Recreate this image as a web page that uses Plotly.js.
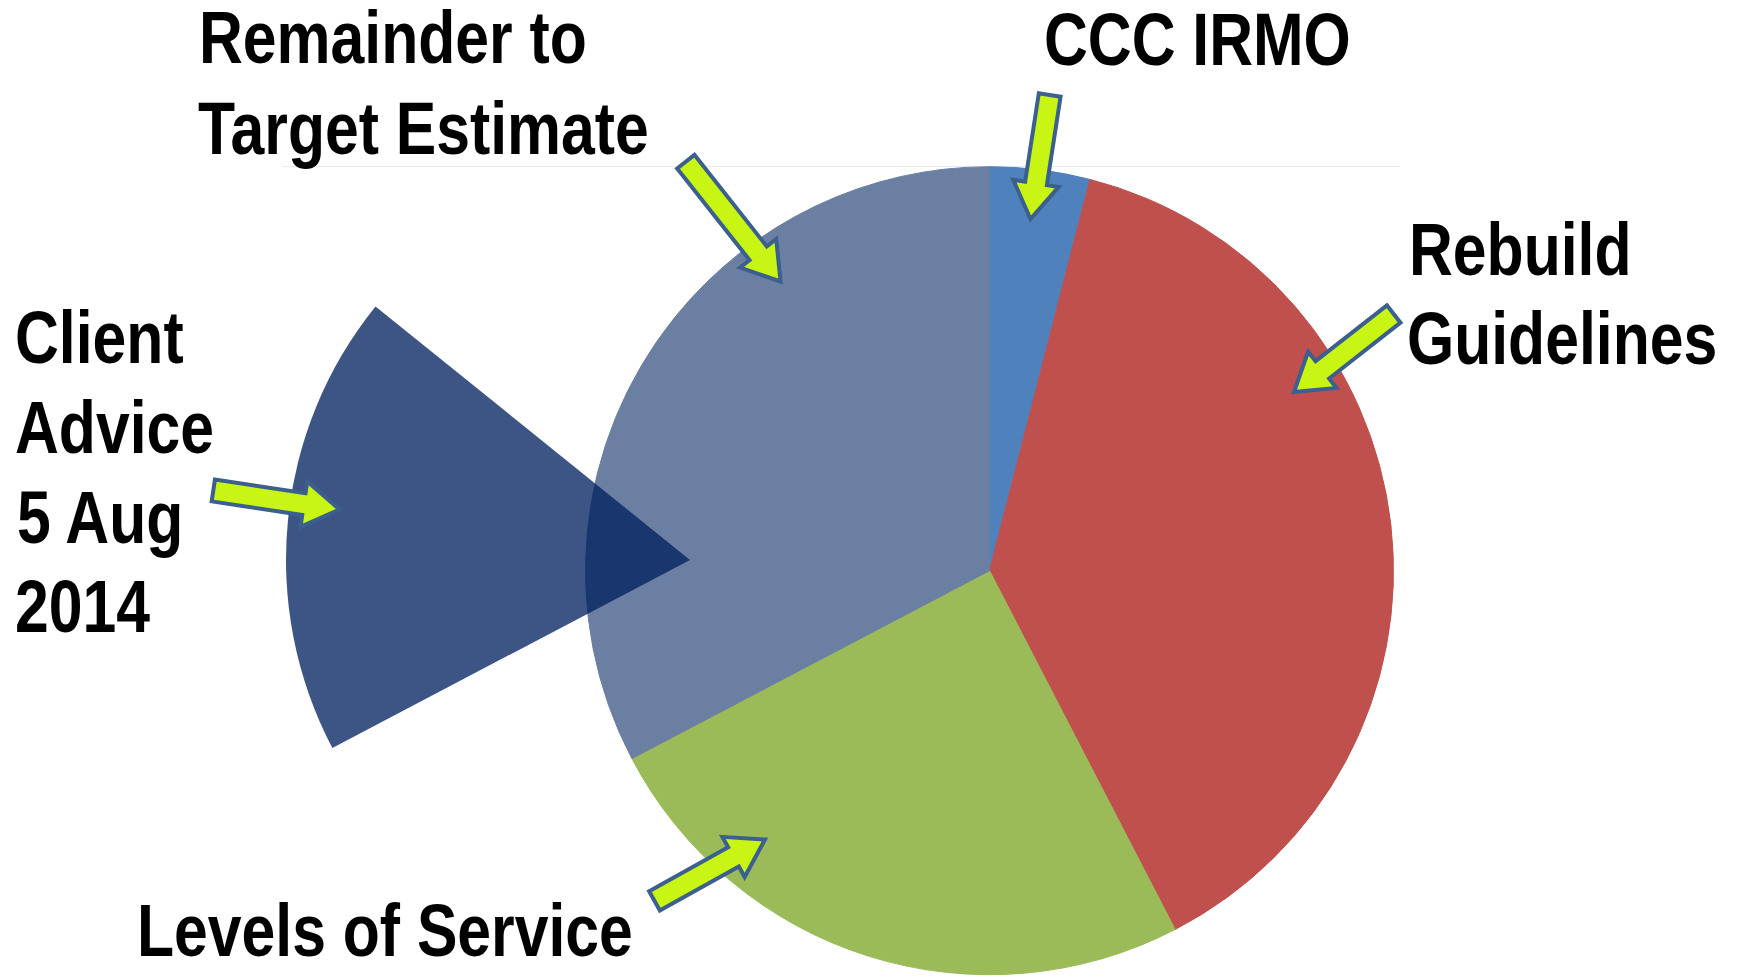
<!DOCTYPE html>
<html><head><meta charset="utf-8">
<script src="https://cdn.plot.ly/plotly-3.0.1.min.js"></script>
<style>html,body{margin:0;padding:0;background:#fff;overflow:hidden}#chart{width:1738px;height:976px;}</style>
</head><body><div id="chart"></div>
<script>
// ---------- data ----------
const categories = ["CCC IRMO", "Rebuild Guidelines", "Levels of Service", "Client Advice 5 Aug 2014", "Remainder to Target Estimate"];
const shares = [4.0, 38.4, 24.9, 18.5, 14.2];
const labelLines = [["CCC IRMO"], ["Rebuild", "Guidelines"], ["Levels of Service"], ["Client", "Advice", "5 Aug", "2014"], ["Remainder to", "Target Estimate"]];
const highlightCategory = "Client Advice 5 Aug 2014";

// ---------- styling / layout ----------
const W = 1738, H = 976;
const sliceColors = ['#4f81bd', '#c0504d', '#9bbb59', '#6b7fa3', '#6b7fa3'];
const highlightColor = 'rgba(0,32,95,0.76)';
const mainPie = {cx: 989.5, cy: 570.7, r: 404};
const pulledPie = {cx: 690, cy: 560, r: 404};
const narrow = 0.82; // horizontal condensing of the label font
// label line positions (left x, baseline y) in pixels, matching labelLines
const labelPos = [
  [[1045, 65]],
  [[1410, 275], [1408, 364]],
  [[138, 956]],
  [[16, 363], [16, 453], [18, 543], [16, 632]],
  [[200, 64], [199, 154]]
];
// arrows: [tail, tip] in pixels, one per category
const arrowPos = [
  [[1049.7, 95], [1030.5, 219]],
  [[1393.7, 314], [1294, 392]],
  [[654.5, 900.8], [765, 839.5]],
  [[213.3, 490.5], [339.5, 509.5]],
  [[685.8, 161.7], [780.5, 281.5]]
];

function domainFor(p) {
  return {x: [(p.cx - p.r) / W, (p.cx + p.r) / W], y: [1 - (p.cy + p.r) / H, 1 - (p.cy - p.r) / H]};
}
const px = x => x / W, py = y => 1 - y / H;

function arrowPath(t, h) {
  const sw = 11, hw = 23, hl = 36;
  const dx = h[0] - t[0], dy = h[1] - t[1], L = Math.hypot(dx, dy);
  const ux = dx / L, uy = dy / L, nx = -uy, ny = ux;
  const bx = h[0] - ux * hl, by = h[1] - uy * hl;
  const pts = [
    [t[0] + nx * sw, t[1] + ny * sw], [bx + nx * sw, by + ny * sw], [bx + nx * hw, by + ny * hw],
    [h[0], h[1]],
    [bx - nx * hw, by - ny * hw], [bx - nx * sw, by - ny * sw], [t[0] - nx * sw, t[1] - ny * sw]
  ];
  return 'M' + pts.map(p => px(p[0]).toFixed(5) + ',' + py(p[1]).toFixed(5)).join(' L') + ' Z';
}

const mainTrace = {
  type: 'pie', labels: categories, values: shares, sort: false, direction: 'clockwise', rotation: 0,
  marker: {colors: sliceColors, line: {width: 1, color: sliceColors}}, textinfo: 'none', hoverinfo: 'label+percent',
  showlegend: false, domain: domainFor(mainPie)
};
const pulledTrace = {
  type: 'pie', labels: categories, values: shares, sort: false, direction: 'clockwise', rotation: 0,
  marker: {colors: categories.map(c => c === highlightCategory ? highlightColor : 'rgba(0,0,0,0)'), line: {width: 0}},
  textinfo: 'none', hoverinfo: 'skip', showlegend: false, domain: domainFor(pulledPie)
};

const fontFam = '"Liberation Sans Narrow", "Arial Narrow", "Liberation Sans", Arial, sans-serif';
const annotations = [];
labelLines.forEach((lines, i) => {
  lines.forEach((txt, j) => {
    const [lx, base] = labelPos[i][j];
    annotations.push({
      x: px(lx - 2), y: py(base - 26), xref: 'paper', yref: 'paper', xanchor: 'left', yanchor: 'middle',
      align: 'left', text: txt, showarrow: false, borderpad: 0,
      font: {family: fontFam, size: 74, color: '#000000', weight: 'bold'}
    });
  });
});

const shapes = [
  {type: 'line', xref: 'paper', yref: 'paper', x0: px(282), x1: px(1400), y0: py(166.5), y1: py(166.5),
   line: {color: '#e6ecf4', width: 1}, layer: 'below'}
];
arrowPos.forEach(a => {
  shapes.push({type: 'path', xref: 'paper', yref: 'paper', path: arrowPath(a[0], a[1]),
    fillcolor: '#c8f514', line: {color: '#3b5f8e', width: 4}, layer: 'above'});
});

const layout = {
  width: W, height: H, margin: {l: 0, r: 0, t: 0, b: 0},
  paper_bgcolor: '#ffffff', plot_bgcolor: '#ffffff', showlegend: false,
  annotations: annotations, shapes: shapes
};
Plotly.newPlot('chart', [mainTrace, pulledTrace], layout, {displayModeBar: false, staticPlot: true}).then(gd => {
  // condense label text horizontally (no narrow font installed)
  gd.querySelectorAll('g.annotation').forEach(g => {
    const t = g.querySelector('text.annotation-text');
    if (!t) return;
    const len = t.getComputedTextLength();
    const newLen = len * narrow;
    t.setAttribute('textLength', newLen.toFixed(1));
    t.setAttribute('lengthAdjust', 'spacingAndGlyphs');
    t.setAttribute('text-anchor', 'start');
    g.querySelectorAll('rect').forEach(r => {
      const w = parseFloat(r.getAttribute('width'));
      if (!isNaN(w)) r.setAttribute('width', Math.max(0, w - (len - newLen)).toFixed(1));
    });
  });
});
</script>
</body></html>
